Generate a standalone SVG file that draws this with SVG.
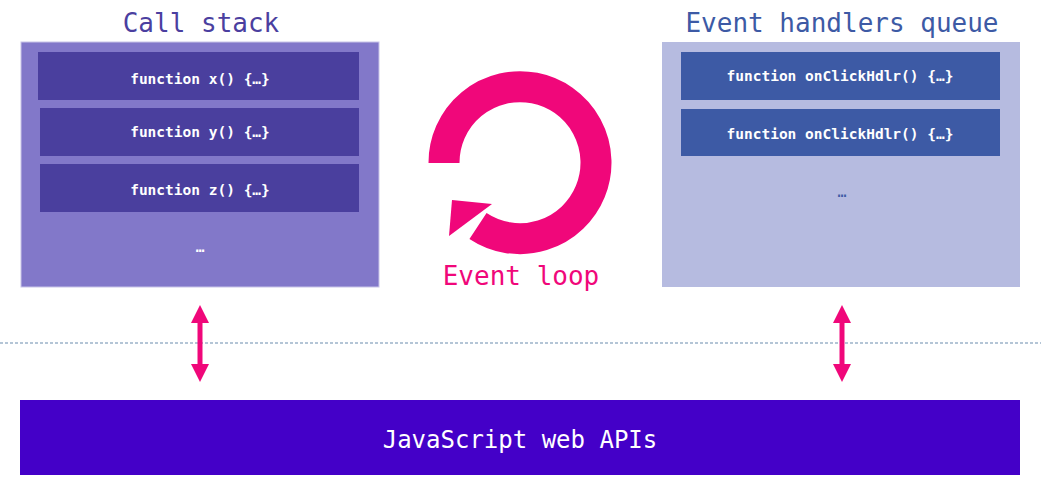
<svg xmlns="http://www.w3.org/2000/svg" width="1041" height="483" viewBox="0 0 1041 483">
<defs>
<style>
text{font-family:"DejaVu Sans Mono","Liberation Mono",monospace;text-anchor:middle}
.fn{fill:#fff;font-size:14.5px;font-weight:bold}
.title{font-size:26px}
.pink{fill:#f0077a}
</style>
<marker id="ah" viewBox="0 0 10 10" refX="5" refY="5" markerWidth="3.6" markerHeight="3.6" orient="auto-start-reverse"><path d="M0,0L10,5L0,10z" fill="#f0077a"/></marker>
</defs>
<rect width="1041" height="483" fill="#fff"/>
<g id="callstack">
<text class="title" x="201" y="32" fill="#4b3fa0">Call stack</text>
<rect x="21" y="42" width="358" height="245" fill="#8278c9" stroke="#c8c4e8"/>
<rect x="38" y="52" width="321" height="48" fill="#4a3f9e"/>
<text class="fn" x="200" y="84">function x() {…}</text>
<rect x="40" y="108" width="319" height="48" fill="#4a3f9e"/>
<text class="fn" x="200" y="137">function y() {…}</text>
<rect x="40" y="164" width="319" height="48" fill="#4a3f9e"/>
<text class="fn" x="200" y="195">function z() {…}</text>
<text class="fn" x="200" y="252">…</text>
</g>
<g id="queue">
<text class="title" x="842" y="32" fill="#3d5aa5">Event handlers queue</text>
<rect x="662" y="42" width="358" height="245" fill="#b6bbe0"/>
<rect x="681" y="52" width="319" height="48" fill="#3d5aa5"/>
<text class="fn" x="840" y="81">function onClickHdlr() {…}</text>
<rect x="681" y="109" width="319" height="47" fill="#3d5aa5"/>
<text class="fn" x="840" y="139">function onClickHdlr() {…}</text>
<text x="842" y="197" font-size="15" fill="#3d5aa5">…</text>
</g>
<g id="eventloop">
<path d="M444,163 A76,76 0 1 1 478,226" fill="none" stroke="#f0077a" stroke-width="31"/>
<polygon points="452,200 492,204 449,236" fill="#f0077a"/>
<text class="pink" x="521" y="285" font-size="26">Event loop</text>
</g>
<g id="webapis">
<rect x="20" y="400" width="1000" height="75" fill="#4400c8"/>
<text x="520" y="448" font-size="24" fill="#fff">JavaScript web APIs</text>
</g>
<g id="connectors">
<line x1="0" y1="343" x2="1041" y2="343" stroke="#6a8cae" stroke-dasharray="3,2" stroke-width="1.2"/>
<line x1="200" y1="314" x2="200" y2="373" stroke="#f0077a" stroke-width="5" marker-start="url(#ah)" marker-end="url(#ah)"/>
<line x1="842" y1="314" x2="842" y2="373" stroke="#f0077a" stroke-width="5" marker-start="url(#ah)" marker-end="url(#ah)"/>
</g>
</svg>
